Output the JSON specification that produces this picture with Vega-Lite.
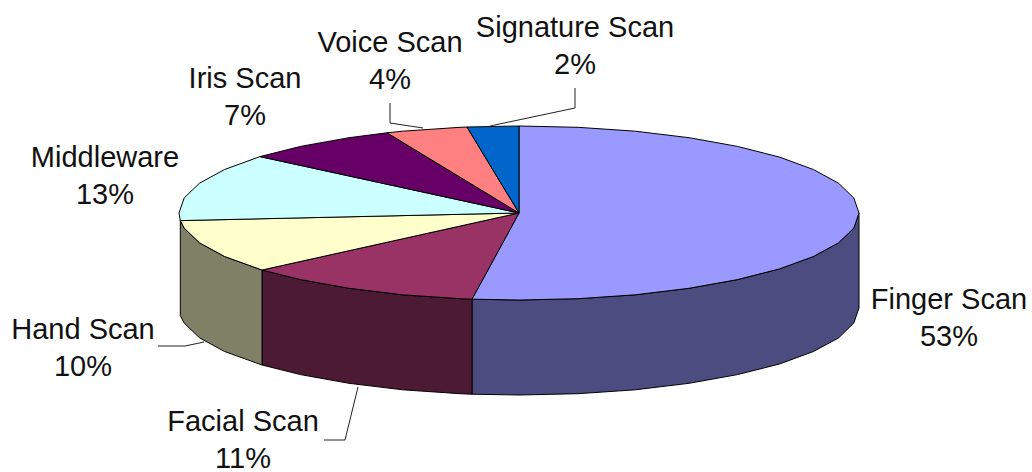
{"$schema":"https://vega.github.io/schema/vega-lite/v6.json","width":1032,"height":472,"padding":0,"autosize":{"type":"none"},"background":"white","config":{"view":{"stroke":null}},
"datasets":{"shapes":[
{"s":"Finger Scan side","p":0,"x":859,"y":213},{"s":"Finger Scan side","p":1,"x":853.8,"y":228.1},{"s":"Finger Scan side","p":2,"x":838.5,"y":242.8},{"s":"Finger Scan side","p":3,"x":813.4,"y":256.5},{"s":"Finger Scan side","p":4,"x":779.5,"y":268.9},{"s":"Finger Scan side","p":5,"x":737.5,"y":279.6},{"s":"Finger Scan side","p":6,"x":689,"y":288.3},{"s":"Finger Scan side","p":7,"x":635.3,"y":294.8},{"s":"Finger Scan side","p":8,"x":578,"y":298.7},{"s":"Finger Scan side","p":9,"x":519,"y":300},{"s":"Finger Scan side","p":10,"x":472,"y":299.2},{"s":"Finger Scan side","p":11,"x":472,"y":394.2},{"s":"Finger Scan side","p":12,"x":519,"y":395},{"s":"Finger Scan side","p":13,"x":578,"y":393.7},{"s":"Finger Scan side","p":14,"x":635.3,"y":389.8},{"s":"Finger Scan side","p":15,"x":689,"y":383.3},{"s":"Finger Scan side","p":16,"x":737.5,"y":374.6},{"s":"Finger Scan side","p":17,"x":779.5,"y":364},{"s":"Finger Scan side","p":18,"x":813.4,"y":351.5},{"s":"Finger Scan side","p":19,"x":838.5,"y":338},{"s":"Finger Scan side","p":20,"x":853.8,"y":323},{"s":"Finger Scan side","p":21,"x":859,"y":308},{"s":"Finger Scan side","p":22,"x":859,"y":213},
{"s":"Facial Scan side","p":0,"x":472,"y":299.2},{"s":"Facial Scan side","p":1,"x":460,"y":298.7},{"s":"Facial Scan side","p":2,"x":402.7,"y":294.8},{"s":"Facial Scan side","p":3,"x":349,"y":288.3},{"s":"Facial Scan side","p":4,"x":300.5,"y":279.6},{"s":"Facial Scan side","p":5,"x":262,"y":270},{"s":"Facial Scan side","p":6,"x":262,"y":365},{"s":"Facial Scan side","p":7,"x":300.5,"y":374.6},{"s":"Facial Scan side","p":8,"x":349,"y":383.3},{"s":"Facial Scan side","p":9,"x":402.7,"y":389.8},{"s":"Facial Scan side","p":10,"x":460,"y":393.7},{"s":"Facial Scan side","p":11,"x":472,"y":394.2},{"s":"Facial Scan side","p":12,"x":472,"y":299.2},
{"s":"Hand Scan side","p":0,"x":262,"y":270},{"s":"Hand Scan side","p":1,"x":224.6,"y":256.5},{"s":"Hand Scan side","p":2,"x":199.5,"y":242.8},{"s":"Hand Scan side","p":3,"x":184.2,"y":228.1},{"s":"Hand Scan side","p":4,"x":180.3,"y":220.6},{"s":"Hand Scan side","p":5,"x":180.3,"y":315.6},{"s":"Hand Scan side","p":6,"x":184.2,"y":323.1},{"s":"Hand Scan side","p":7,"x":199.5,"y":337.8},{"s":"Hand Scan side","p":8,"x":224.6,"y":351.5},{"s":"Hand Scan side","p":9,"x":262,"y":365},{"s":"Hand Scan side","p":10,"x":262,"y":270},
{"s":"Finger Scan top","p":0,"x":519,"y":213},{"s":"Finger Scan top","p":1,"x":519,"y":126},{"s":"Finger Scan top","p":2,"x":578,"y":127.3},{"s":"Finger Scan top","p":3,"x":635.3,"y":131.2},{"s":"Finger Scan top","p":4,"x":689,"y":137.7},{"s":"Finger Scan top","p":5,"x":737.5,"y":146.4},{"s":"Finger Scan top","p":6,"x":779.5,"y":157.1},{"s":"Finger Scan top","p":7,"x":813.4,"y":169.5},{"s":"Finger Scan top","p":8,"x":838.5,"y":183.2},{"s":"Finger Scan top","p":9,"x":853.8,"y":197.9},{"s":"Finger Scan top","p":10,"x":859,"y":213},{"s":"Finger Scan top","p":11,"x":853.8,"y":228.1},{"s":"Finger Scan top","p":12,"x":838.5,"y":242.8},{"s":"Finger Scan top","p":13,"x":813.4,"y":256.5},{"s":"Finger Scan top","p":14,"x":779.5,"y":268.9},{"s":"Finger Scan top","p":15,"x":737.5,"y":279.6},{"s":"Finger Scan top","p":16,"x":689,"y":288.3},{"s":"Finger Scan top","p":17,"x":635.3,"y":294.8},{"s":"Finger Scan top","p":18,"x":578,"y":298.7},{"s":"Finger Scan top","p":19,"x":519,"y":300},{"s":"Finger Scan top","p":20,"x":472,"y":299.2},{"s":"Finger Scan top","p":21,"x":519,"y":213},
{"s":"Facial Scan top","p":0,"x":519,"y":213},{"s":"Facial Scan top","p":1,"x":472,"y":299.2},{"s":"Facial Scan top","p":2,"x":460,"y":298.7},{"s":"Facial Scan top","p":3,"x":402.7,"y":294.8},{"s":"Facial Scan top","p":4,"x":349,"y":288.3},{"s":"Facial Scan top","p":5,"x":300.5,"y":279.6},{"s":"Facial Scan top","p":6,"x":262,"y":270},{"s":"Facial Scan top","p":7,"x":519,"y":213},
{"s":"Hand Scan top","p":0,"x":519,"y":213},{"s":"Hand Scan top","p":1,"x":262,"y":270},{"s":"Hand Scan top","p":2,"x":224.6,"y":256.5},{"s":"Hand Scan top","p":3,"x":199.5,"y":242.8},{"s":"Hand Scan top","p":4,"x":184.2,"y":228.1},{"s":"Hand Scan top","p":5,"x":180.3,"y":220.6},{"s":"Hand Scan top","p":6,"x":519,"y":213},
{"s":"Middleware top","p":0,"x":519,"y":213},{"s":"Middleware top","p":1,"x":180.3,"y":220.6},{"s":"Middleware top","p":2,"x":179,"y":213},{"s":"Middleware top","p":3,"x":184.2,"y":197.9},{"s":"Middleware top","p":4,"x":199.5,"y":183.2},{"s":"Middleware top","p":5,"x":224.6,"y":169.5},{"s":"Middleware top","p":6,"x":260,"y":156.6},{"s":"Middleware top","p":7,"x":519,"y":213},
{"s":"Iris Scan top","p":0,"x":519,"y":213},{"s":"Iris Scan top","p":1,"x":260,"y":156.6},{"s":"Iris Scan top","p":2,"x":300.5,"y":146.4},{"s":"Iris Scan top","p":3,"x":349,"y":137.7},{"s":"Iris Scan top","p":4,"x":387,"y":132.8},{"s":"Iris Scan top","p":5,"x":519,"y":213},
{"s":"Voice Scan top","p":0,"x":519,"y":213},{"s":"Voice Scan top","p":1,"x":387,"y":132.8},{"s":"Voice Scan top","p":2,"x":402.7,"y":131.2},{"s":"Voice Scan top","p":3,"x":460,"y":127.3},{"s":"Voice Scan top","p":4,"x":467,"y":127},{"s":"Voice Scan top","p":5,"x":519,"y":213},
{"s":"Signature Scan top","p":0,"x":519,"y":213},{"s":"Signature Scan top","p":1,"x":467,"y":127},{"s":"Signature Scan top","p":2,"x":519,"y":126},{"s":"Signature Scan top","p":3,"x":519,"y":213}
],
"leaders":[
{"s":"Hand Scan","p":0,"x":158,"y":346},{"s":"Hand Scan","p":1,"x":185,"y":346},{"s":"Hand Scan","p":2,"x":204,"y":342},
{"s":"Facial Scan","p":0,"x":324,"y":440},{"s":"Facial Scan","p":1,"x":345,"y":440},{"s":"Facial Scan","p":2,"x":358,"y":387},
{"s":"Voice Scan","p":0,"x":390,"y":103},{"s":"Voice Scan","p":1,"x":390,"y":123},{"s":"Voice Scan","p":2,"x":423,"y":128},
{"s":"Signature Scan","p":0,"x":575,"y":88},{"s":"Signature Scan","p":1,"x":575,"y":108},{"s":"Signature Scan","p":2,"x":490,"y":126}
],
"labels":[
{"label":"Finger Scan|53%","x":949,"y":300},
{"label":"Facial Scan|11%","x":243,"y":422},
{"label":"Hand Scan|10%","x":83,"y":330},
{"label":"Middleware|13%","x":105,"y":158},
{"label":"Iris Scan|7%","x":245,"y":79},
{"label":"Voice Scan|4%","x":390,"y":43},
{"label":"Signature Scan|2%","x":575,"y":28}
]},
"layer":[
{"data":{"name":"shapes"},"mark":{"type":"line","filled":true,"stroke":"black","strokeWidth":1,"strokeJoin":"round"},
"encoding":{"x":{"field":"x","type":"quantitative","scale":{"domain":[0,1032],"nice":false,"zero":false},"axis":null},
"y":{"field":"y","type":"quantitative","scale":{"domain":[0,472],"reverse":true,"nice":false,"zero":false},"axis":null},
"order":{"field":"p","type":"ordinal"},"detail":{"field":"s"},
"fill":{"field":"s","type":"nominal","legend":null,"scale":{"domain":["Finger Scan top","Finger Scan side","Facial Scan top","Facial Scan side","Hand Scan top","Hand Scan side","Middleware top","Iris Scan top","Voice Scan top","Signature Scan top"],"range":["#9999FF","#4C4C80","#993366","#4D1A33","#FFFFCC","#808066","#CCFFFF","#660066","#FF8080","#0066CC"]}}}},
{"data":{"name":"leaders"},"mark":{"type":"line","stroke":"#222222","strokeWidth":1},
"encoding":{"x":{"field":"x","type":"quantitative"},"y":{"field":"y","type":"quantitative"},"order":{"field":"p","type":"ordinal"},"detail":{"field":"s"}}},
{"data":{"name":"labels"},"mark":{"type":"text","font":"Liberation Sans","fontSize":29,"lineBreak":"|","lineHeight":37,"align":"center","baseline":"middle","fill":"#111111"},
"encoding":{"x":{"field":"x","type":"quantitative"},"y":{"field":"y","type":"quantitative"},"text":{"field":"label"}}}
]}
